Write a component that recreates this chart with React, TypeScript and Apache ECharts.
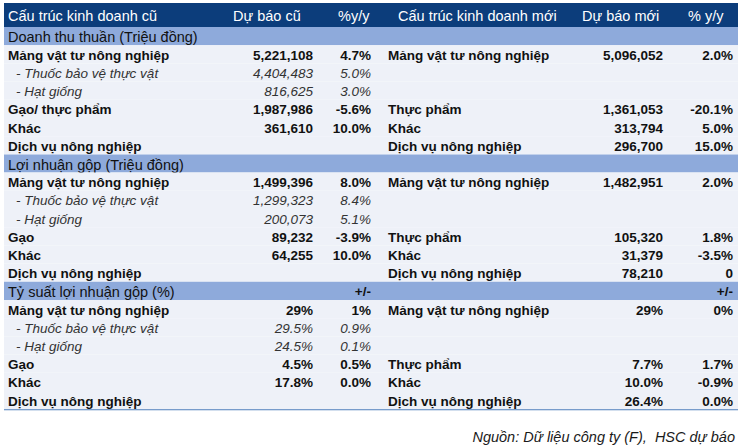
import React, { useEffect, useRef } from "react";
import * as echarts from "echarts";

const headers = ["Cấu trúc kinh doanh cũ", "Dự báo cũ", "%y/y", "Cấu trúc kinh doanh mới", "Dự báo mới", "% y/y"];

const oldLabels = [
  "Doanh thu thuần (Triệu đồng)", "Mảng vật tư nông nghiệp", "- Thuốc bảo vệ thực vật", "- Hạt giống", "Gạo/ thực phẩm", "Khác", "Dịch vụ nông nghiệp",
  "Lợi nhuận gộp (Triệu đồng)", "Mảng vật tư nông nghiệp", "- Thuốc bảo vệ thực vật", "- Hạt giống", "Gạo", "Khác", "Dịch vụ nông nghiệp",
  "Tỷ suất lợi nhuận gộp (%)", "Mảng vật tư nông nghiệp", "- Thuốc bảo vệ thực vật", "- Hạt giống", "Gạo", "Khác", "Dịch vụ nông nghiệp",
];
const oldForecast = [
  "", "5,221,108", "4,404,483", "816,625", "1,987,986", "361,610", "",
  "", "1,499,396", "1,299,323", "200,073", "89,232", "64,255", "",
  "", "29%", "29.5%", "24.5%", "4.5%", "17.8%", "",
];
const oldYoY = [
  "", "4.7%", "5.0%", "3.0%", "-5.6%", "10.0%", "",
  "", "8.0%", "8.4%", "5.1%", "-3.9%", "10.0%", "",
  "+/-", "1%", "0.9%", "0.1%", "0.5%", "0.0%", "",
];
const newLabels = [
  "", "Mảng vật tư nông nghiệp", "", "", "Thực phẩm", "Khác", "Dịch vụ nông nghiệp",
  "", "Mảng vật tư nông nghiệp", "", "", "Thực phẩm", "Khác", "Dịch vụ nông nghiệp",
  "", "Mảng vật tư nông nghiệp", "", "", "Thực phẩm", "Khác", "Dịch vụ nông nghiệp",
];
const newForecast = [
  "", "5,096,052", "", "", "1,361,053", "313,794", "296,700",
  "", "1,482,951", "", "", "105,320", "31,379", "78,210",
  "", "29%", "", "", "7.7%", "10.0%", "26.4%",
];
const newYoY = [
  "", "2.0%", "", "", "-20.1%", "5.0%", "15.0%",
  "", "2.0%", "", "", "1.8%", "-3.5%", "0",
  "+/-", "0%", "", "", "1.7%", "-0.9%", "0.0%",
];
const sectionRows = [0, 7, 14];
const subRows = [2, 3, 9, 10, 16, 17];
const sourceText = "Nguồn: Dữ liệu công ty (F),  HSC dự báo";

const FONT = '"Liberation Sans", Arial, sans-serif';
const W = 749;
const H = 447;

export default function App() {
  const ref = useRef<HTMLDivElement>(null);
  useEffect(() => {
    if (!ref.current) return;
    const chart = echarts.init(ref.current, undefined, { renderer: "svg" });
    const rowIdx = oldLabels.map((_, i) => String(i));
    const renderItem = (params: any, api: any) => {
      const i = api.value(1);
      const c = api.coord([0, i]);
      const h = api.size([0, 1])[1];
      const X = (v: number) => api.coord([v, i])[0];
      const top = c[1] - h / 2;
      const isSection = sectionRows.includes(i);
      const isSub = subRows.includes(i);
      const children: any[] = [
        {
          type: "rect",
          shape: { x: X(4), y: top, width: X(738) - X(4), height: h },
          style: { fill: isSection ? "#8eaadb" : "#eef1f8" },
        },
      ];
      const txt = (text: string, x: number, align: string, bold: boolean, italic: boolean, color: string, size = 13.5) => {
        if (!text) return;
        children.push({
          type: "text",
          style: {
            text,
            x: X(x),
            y: c[1] + 1,
            align,
            verticalAlign: "middle",
            fontSize: size,
            fontFamily: FONT,
            fontWeight: bold ? "bold" : "normal",
            fontStyle: italic ? "italic" : "normal",
            fill: color,
          },
        });
      };
      if (isSection) {
        txt(oldLabels[i], 8, "left", false, false, "#111", 14.5);
        txt(oldYoY[i], 371, "right", true, false, "#111");
        txt(newYoY[i], 733, "right", true, false, "#111");
      } else if (isSub) {
        const col = "#333";
        txt(oldLabels[i], 16, "left", false, true, col);
        txt(oldForecast[i], 313, "right", false, true, col);
        txt(oldYoY[i], 371, "right", false, true, col);
      } else {
        txt(oldLabels[i], 8, "left", true, false, "#111");
        txt(oldForecast[i], 313, "right", true, false, "#111");
        txt(oldYoY[i], 371, "right", true, false, "#111");
        txt(newLabels[i], 388, "left", true, false, "#111");
        txt(newForecast[i], 663, "right", true, false, "#111");
        txt(newYoY[i], 733, "right", true, false, "#111");
      }
      return { type: "group", children };
    };
    const headerX = [8, 233, 338, 398, 582, 688];
    chart.setOption({
      animation: false,
      grid: { left: 0, right: 0, top: 27, bottom: H - 409.2 },
      xAxis: { type: "value", min: 0, max: W, show: false },
      yAxis: { type: "category", data: rowIdx, inverse: true, show: false },
      series: [
        {
          type: "custom",
          renderItem,
          data: rowIdx.map((_, i) => [0, i]),
          encode: { x: 0, y: 1 },
          silent: true,
        },
      ],
      graphic: [
        { type: "rect", shape: { x: 4, y: 3, width: 734, height: 24 }, style: { fill: "#0c3d7b" } },
        ...headers.map((t, k) => ({
          type: "text",
          x: headerX[k],
          y: 15.5,
          style: { text: t, fill: "#ffffff", fontSize: 14.5, fontFamily: FONT, verticalAlign: "middle", align: "left" },
        })),
        { type: "rect", shape: { x: 4, y: 408.2, width: 734, height: 2 }, style: { fill: "#4f7fbd" } },
        {
          type: "text",
          x: 735,
          y: 437,
          style: { text: sourceText, fill: "#1a1a1a", fontSize: 14.5, fontStyle: "italic", fontFamily: FONT, align: "right", verticalAlign: "middle" },
        },
      ],
    });
    return () => chart.dispose();
  }, []);
  return (
    <div style={{ position: "fixed", left: 0, top: 0, width: W, height: H, background: "#fff" }}>
      <div ref={ref} style={{ width: W, height: H }} />
    </div>
  );
}
